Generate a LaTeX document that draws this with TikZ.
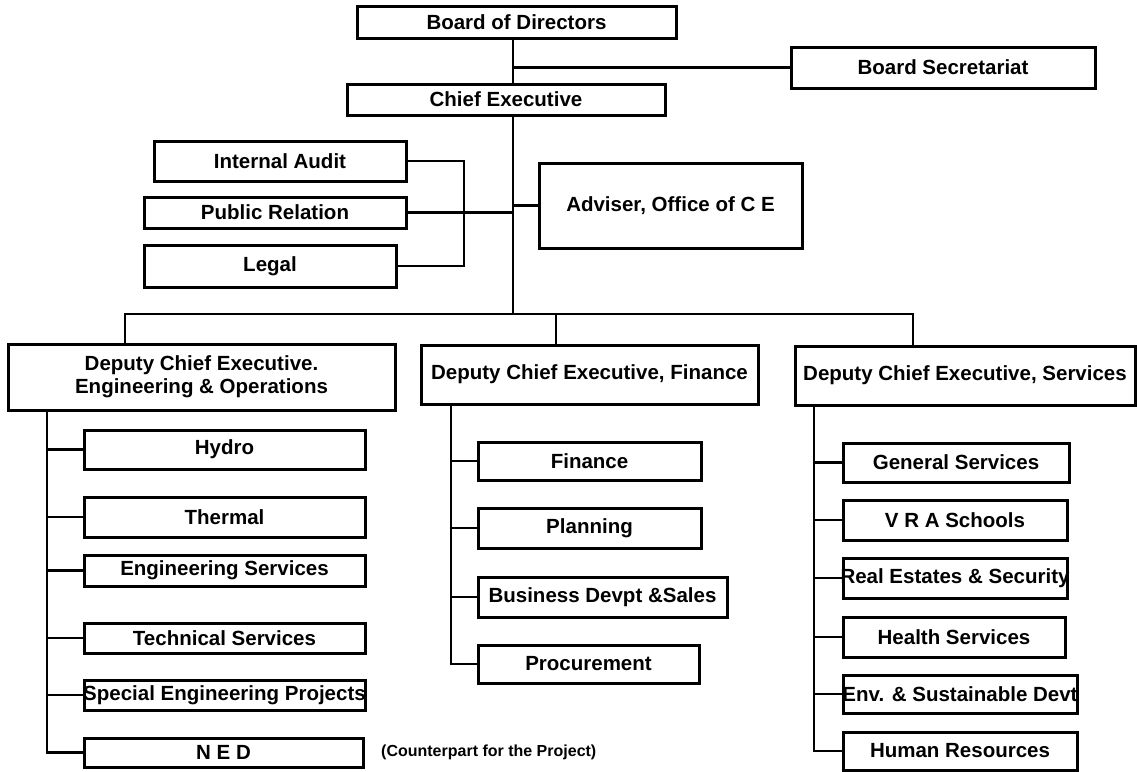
\documentclass[tikz,border=0pt]{standalone}
\usepackage{fontspec}
\setmainfont{Liberation Sans}
\begin{document}
\begin{tikzpicture}[x=1pt,y=-1pt,
  box/.style={draw, line width=3pt, inner sep=0pt, font=\fontsize{20.5}{23}\selectfont\bfseries, align=center},
  conn/.style={line width=2.6pt, line join=miter},
  note/.style={font=\fontsize{16}{18}\selectfont\bfseries, anchor=west, inner sep=0pt}]
\useasboundingbox (0,0) rectangle (1137,771);
% top
\node[box, minimum width=319pt, minimum height=32pt] (bod) at (516.5,22) {Board of Directors};
\node[box, minimum width=304pt, minimum height=41pt] (bs) at (943,67.5) {Board Secretariat};
\node[box, minimum width=318pt, minimum height=31pt] (ce) at (506,99.5) {Chief Executive};
\node[box, minimum width=252pt, minimum height=40pt] (ia) at (280,161) {Internal Audit};
\node[box, minimum width=262pt, minimum height=31pt] (pr) at (275,212.5) {Public Relation};
\node[box, minimum width=252pt, minimum height=42pt] (legal) at (270,266) {Legal};
\node[box, minimum width=263pt, minimum height=85pt] (adv) at (670.5,205.5) {Adviser, Office of C E};
% deputies
\node[box, minimum width=387pt, minimum height=66pt] (dce1) at (201.5,377) {Deputy Chief Executive.\\Engineering \& Operations};
\node[box, minimum width=337pt, minimum height=59pt] (dce2) at (589.5,374.5) {Deputy Chief Executive, Finance};
\node[box, minimum width=340pt, minimum height=59pt] (dce3) at (965,375.5) {Deputy Chief Executive, Services};
% column 1
\node[box, minimum width=281pt, minimum height=39pt] (hydro) at (224.5,449.5) {Hydro};
\node[box, minimum width=281pt, minimum height=40pt] (thermal) at (224.5,517) {Thermal};
\node[box, minimum width=281pt, minimum height=31pt] (engs) at (224.5,570.5) {Engineering Services};
\node[box, minimum width=281pt, minimum height=30pt] (techs) at (224.5,638) {Technical Services};
\node[box, minimum width=281pt, minimum height=30pt] (sep) at (224.5,695) {\makebox[0pt]{Special Engineering Projects}};
\node[box, minimum width=279pt, minimum height=29pt] (ned) at (223.5,752.5) {N E D};
\node[note] (cp) at (381,752.5) {(Counterpart for the Project)};
% column 2
\node[box, minimum width=223pt, minimum height=38pt] (fin) at (589.5,461) {Finance};
\node[box, minimum width=223pt, minimum height=40pt] (plan) at (589.5,528) {Planning};
\node[box, minimum width=249pt, minimum height=40pt] (bds) at (602.5,597) {Business Devpt \&Sales};
\node[box, minimum width=221pt, minimum height=38pt] (proc) at (588.5,664) {Procurement};
% column 3
\node[box, minimum width=226pt, minimum height=39pt] (gs) at (956,462.5) {General Services};
\node[box, minimum width=224pt, minimum height=40pt] (vra) at (955,520) {V R A Schools};
\node[box, minimum width=224pt, minimum height=40pt] (re) at (955,578) {\makebox[0pt]{Real Estates \& Security}};
\node[box, minimum width=222pt, minimum height=40pt] (hs) at (954,637) {Health Services};
\node[box, minimum width=234pt, minimum height=38pt] (env) at (960,694) {\makebox[0pt]{Env. \& Sustainable Devt}};
\node[box, minimum width=234pt, minimum height=38pt] (hr) at (960,751) {Human Resources};
% coordinates
\coordinate (t) at (513,60);
\coordinate (br) at (464,200);
\coordinate (b1) at (125,314);
\coordinate (b2) at (556,314);
\coordinate (b3) at (913,314);
\coordinate (s1) at (47,600);
\coordinate (s2) at (451,600);
\coordinate (s3) at (814,600);
% connectors
\draw[conn] (bod.south -| t) -- (ce.north -| t);
\draw[conn] (bs.west) -- (bs.west -| t);
\draw[conn] (ce.south -| t) -- (t |- b2);
\draw[conn] (ia.east) -| (br) |- (legal.east);
\draw[conn] (pr.east) -- (pr.east -| t);
\draw[conn] (adv.west) -- (adv.west -| t);
\draw[conn] (dce1.north -| b1) |- (b3) -- (dce3.north -| b3);
\draw[conn] (b2) -- (dce2.north -| b2);
\draw[conn] (dce1.south -| s1) |- (ned.west);
\foreach \n in {hydro,thermal,engs,techs,sep} \draw[conn] (\n.west) -- (\n.west -| s1);
\draw[conn] (dce2.south -| s2) |- (proc.west);
\foreach \n in {fin,plan,bds} \draw[conn] (\n.west) -- (\n.west -| s2);
\draw[conn] (dce3.south -| s3) |- (hr.west);
\foreach \n in {gs,vra,re,hs,env} \draw[conn] (\n.west) -- (\n.west -| s3);
\end{tikzpicture}
\end{document}
